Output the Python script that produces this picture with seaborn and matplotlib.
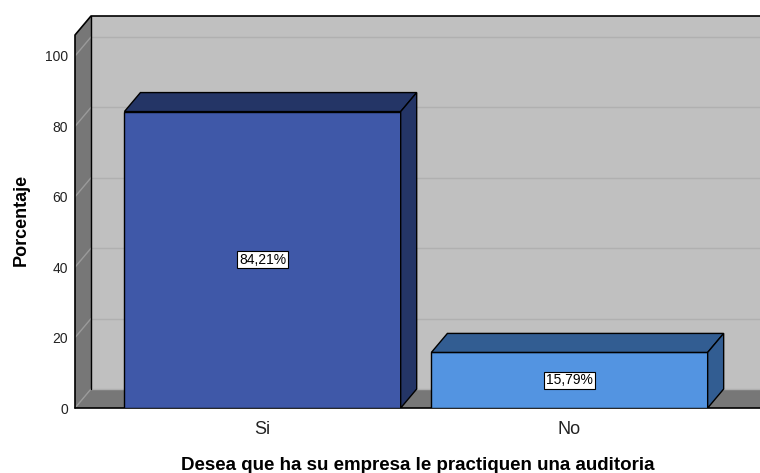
import matplotlib
matplotlib.use("Agg")
import matplotlib.pyplot as plt
import seaborn as sns
from matplotlib.patches import Polygon

# data
categories = ["Si", "No"]
percentages = [84.21, 15.79]
value_labels = ["84,21%", "15,79%"]
y_ticks = [0, 20, 40, 60, 80, 100]

face_colors = ["#3f58a8", "#5394e1"]
shade_colors = ["#243566", "#325d92"]

sns.set_theme(style="white")
plt.rcParams["font.family"] = ["Liberation Sans", "DejaVu Sans"]

fig = plt.figure(figsize=(7.6, 4.73), dpi=100)
ax = fig.add_axes([75 / 760, 65 / 473, 685 / 760, 392 / 473])

sns.barplot(
    x=categories,
    y=percentages,
    hue=categories,
    palette=face_colors,
    saturation=1,
    width=0.9,
    edgecolor="black",
    linewidth=1,
    legend=False,
    ax=ax,
    zorder=3,
)

x0, x1 = -0.611, 1.6205
y_top = 111.36
ax.set_xlim(x0, x1)
ax.set_ylim(0, y_top)

# depth offset of the pseudo-3D box (16 px right, 19 px up)
dx = 16 / 307
dy = 19 / 3.52

# walls
ax.add_patch(Polygon([(x0 + dx, dy), (x1, dy), (x1, y_top), (x0 + dx, y_top)],
                     closed=True, facecolor="#c0c0c0", edgecolor="none", zorder=0))
ax.add_patch(Polygon([(x0, 0), (x0, y_top - dy), (x0 + dx, y_top), (x0 + dx, dy)],
                     closed=True, facecolor="#777777", edgecolor="none", zorder=0))
ax.add_patch(Polygon([(x0, 0), (x1, 0), (x1, dy), (x0 + dx, dy)],
                     closed=True, facecolor="#777777", edgecolor="none", zorder=0))

# gridlines on the back wall and left wall
for t in y_ticks:
    ax.plot([x0 + dx, x1], [t + dy, t + dy], color="#b0b0b0", lw=1, zorder=1)
    ax.plot([x0, x0 + dx], [t, t + dy], color="#9a9a9a", lw=1, zorder=1)

# black outline of the box
ax.plot([x0, x0, x0 + dx, x1], [0, y_top - dy, y_top, y_top],
        color="black", lw=1.2, zorder=2, clip_on=False)
ax.plot([x0 + dx, x0 + dx], [dy, y_top], color="black", lw=1, zorder=2)
ax.plot([x0, x1], [0, 0], color="black", lw=1.2, zorder=2, clip_on=False)

# top and side faces of each bar
for bar, shade, label in zip(ax.patches[:len(categories)], shade_colors, value_labels):
    x = bar.get_x()
    w = bar.get_width()
    h = bar.get_height()
    ax.add_patch(Polygon([(x, h), (x + dx, h + dy), (x + w + dx, h + dy), (x + w, h)],
                         closed=True, facecolor=shade, edgecolor="black", lw=1, zorder=3))
    ax.add_patch(Polygon([(x + w, 0), (x + w + dx, dy), (x + w + dx, h + dy), (x + w, h)],
                         closed=True, facecolor=shade, edgecolor="black", lw=1, zorder=3))
    ax.text(x + w / 2, h / 2, label, ha="center", va="center", fontsize=10,
            color="black", zorder=5,
            bbox=dict(boxstyle="square,pad=0.12", facecolor="white",
                      edgecolor="black", lw=0.8))

ax.set_yticks(y_ticks)
ax.set_yticklabels([str(t) for t in y_ticks])
ax.tick_params(axis="y", length=0, pad=5, labelsize=10, colors="#222222")
ax.tick_params(axis="x", length=0, pad=9, labelsize=13, colors="#222222")
for side in ax.spines.values():
    side.set_visible(False)

ax.set_xlabel("Desea que ha su empresa le practiquen una auditoria",
              fontsize=13.5, fontweight="bold", color="black")
ax.xaxis.set_label_coords(0.5, -0.125)
ax.set_ylabel("Porcentaje", fontsize=13, fontweight="bold", color="black")
ax.yaxis.set_label_coords(-0.066, 0.48)

fig.savefig("out.png", dpi=100)
